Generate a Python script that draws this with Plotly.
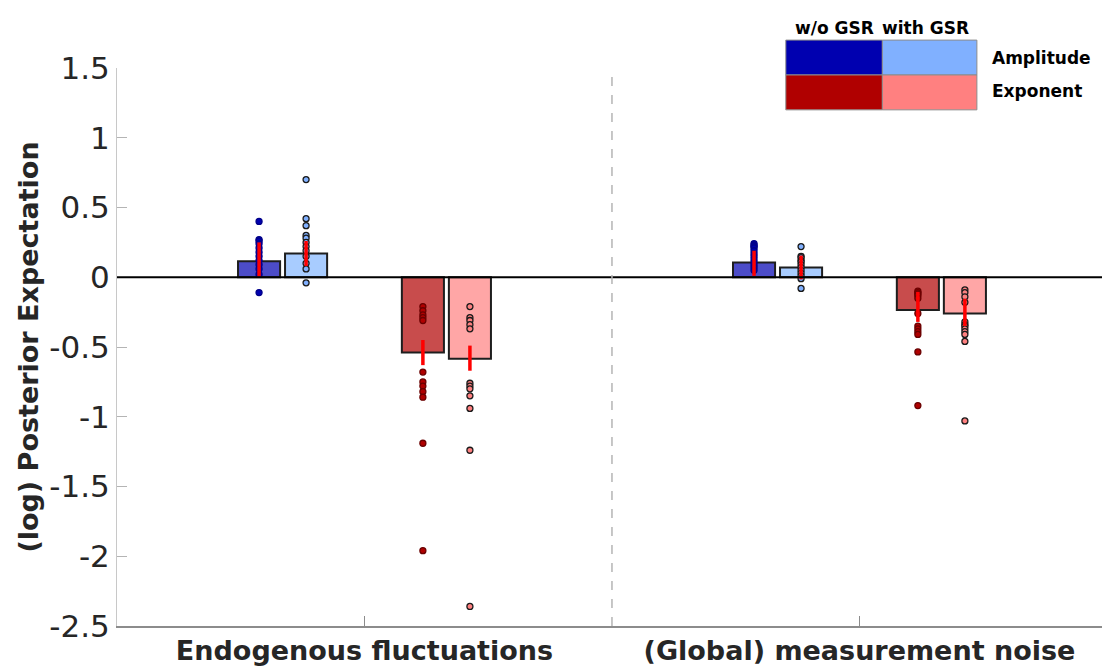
import plotly.graph_objects as go

# ---------------- data ----------------
categories = ["Endogenous fluctuations", "(Global) measurement noise"]
cat_pos = [1, 2]
y_ticks = [1.5, 1, 0.5, 0, -0.5, -1, -1.5, -2, -2.5]
y_tick_labels = ["1.5", "1", "0.5", "0", "-0.5", "-1", "-1.5", "-2", "-2.5"]

groups = ["Amplitude w/o GSR", "Amplitude with GSR", "Exponent w/o GSR", "Exponent with GSR"]

# group means (bar heights) per category
amp_wo_mean = [0.115, 0.105]
amp_w_mean = [0.17, 0.07]
exp_wo_mean = [-0.54, -0.235]
exp_w_mean = [-0.585, -0.26]

# error bar ranges (low, high) per category
amp_wo_lo = [0.005, 0.01]
amp_wo_hi = [0.25, 0.19]
amp_w_lo = [0.08, -0.015]
amp_w_hi = [0.26, 0.155]
exp_wo_lo = [-0.63, -0.32]
exp_wo_hi = [-0.45, -0.105]
exp_w_lo = [-0.67, -0.35]
exp_w_hi = [-0.49, -0.155]

# individual subject estimates
amp_wo_pts = [
    [0.40, 0.27, 0.26, 0.24, 0.21, 0.18, 0.15, 0.12, 0.09, 0.06, 0.02, -0.11],
    [0.24, 0.23, 0.22, 0.21, 0.19, 0.17, 0.15, 0.13, 0.11, 0.09, 0.07, 0.05],
]
amp_w_pts = [
    [0.70, 0.42, 0.37, 0.30, 0.28, 0.25, 0.22, 0.19, 0.15, 0.10, 0.06, -0.04],
    [0.22, 0.15, 0.14, 0.12, 0.11, 0.09, 0.07, 0.05, 0.03, 0.01, -0.01, -0.08],
]
exp_wo_pts = [
    [-0.21, -0.24, -0.27, -0.29, -0.31, -0.68, -0.75, -0.78, -0.82, -0.86, -1.19, -1.96],
    [-0.10, -0.11, -0.12, -0.13, -0.15, -0.26, -0.35, -0.37, -0.39, -0.41, -0.535, -0.92],
]
exp_w_pts = [
    [-0.21, -0.29, -0.31, -0.34, -0.37, -0.76, -0.78, -0.80, -0.85, -0.94, -1.24, -2.36],
    [-0.09, -0.11, -0.14, -0.18, -0.32, -0.34, -0.35, -0.37, -0.39, -0.41, -0.46, -1.03],
]

means = [amp_wo_mean, amp_w_mean, exp_wo_mean, exp_w_mean]
lows = [amp_wo_lo, amp_w_lo, exp_wo_lo, exp_w_lo]
highs = [amp_wo_hi, amp_w_hi, exp_wo_hi, exp_w_hi]
points = [amp_wo_pts, amp_w_pts, exp_wo_pts, exp_w_pts]

# ---------------- styling ----------------
offsets = [-0.213, -0.118, 0.118, 0.213]
bar_width = 0.085
bar_fill = ["#4c4cc8", "#a8ccff", "#c84c4c", "#ffa6a6"]
dot_fill = ["#0000b0", "#80b0ff", "#b00000", "#ff8080"]
dot_edge = ["#00008a", "#1a1a1a", "#6a0000", "#1a1a1a"]
legend_cols = ["#0000b0", "#80b0ff", "#b00000", "#ff8080"]
FONT = "DejaVu Sans"

fig = go.Figure()

for g in range(4):
    xs = [c + offsets[g] for c in cat_pos]
    fig.add_trace(go.Bar(
        x=xs, y=means[g], width=bar_width, name=groups[g],
        marker=dict(color=bar_fill[g], line=dict(color="#1e1e1e", width=2)),
        showlegend=False, hoverinfo="skip",
    ))

for g in range(4):
    px, py = [], []
    for ci, c in enumerate(cat_pos):
        for v in points[g][ci]:
            px.append(c + offsets[g])
            py.append(v)
    fig.add_trace(go.Scatter(
        x=px, y=py, mode="markers", showlegend=False, hoverinfo="skip",
        marker=dict(size=6, color=dot_fill[g], line=dict(color=dot_edge[g], width=1.3)),
    ))

for g in range(4):
    ex, ey = [], []
    for ci, c in enumerate(cat_pos):
        ex += [c + offsets[g], c + offsets[g], None]
        ey += [lows[g][ci], highs[g][ci], None]
    fig.add_trace(go.Scatter(
        x=ex, y=ey, mode="lines", showlegend=False, hoverinfo="skip",
        line=dict(color="#ff0000", width=3.5),
    ))

# zero line
fig.add_hline(y=0, line=dict(color="black", width=2))
# separator
fig.add_shape(type="line", x0=1.5, x1=1.5, y0=-2.5, y1=1.5, xref="x", yref="y",
              line=dict(color="#b4b4b4", width=1.5, dash="dash"))

# colour-grid legend
lx = [0.679, 0.777, 0.873]
ly = [1.05, 0.9875, 0.925]
k = 0
for r in range(2):
    for c in range(2):
        fig.add_shape(type="rect", xref="paper", yref="paper",
                      x0=lx[c], x1=lx[c + 1], y0=ly[r + 1], y1=ly[r],
                      fillcolor=legend_cols[k], line=dict(color="#8c8c8c", width=1))
        k += 1
for txt, xp in [("w/o GSR", 0.728), ("with GSR", 0.821)]:
    fig.add_annotation(text=f"<b>{txt}</b>", x=xp, y=1.072, xref="paper", yref="paper",
                       showarrow=False, xanchor="center", yanchor="middle",
                       font=dict(family=FONT, size=17, color="black"))
for txt, yp in [("Amplitude", 1.018), ("Exponent", 0.958)]:
    fig.add_annotation(text=f"<b>{txt}</b>", x=0.886, y=yp, xref="paper", yref="paper",
                       showarrow=False, xanchor="left", yanchor="middle",
                       font=dict(family=FONT, size=17, color="black"))

fig.update_layout(
    width=1102, height=666,
    margin=dict(l=117, r=0, t=68, b=38),
    plot_bgcolor="white", paper_bgcolor="white",
    barmode="overlay",
    font=dict(family=FONT, color="#262626"),
    xaxis=dict(
        range=[0.5, 2.49], tickvals=cat_pos,
        ticktext=[f"<b>{c}</b>" for c in categories],
        tickfont=dict(family=FONT, size=27, color="#262626"),
        ticks="inside", ticklen=10, tickcolor="#8c8c8c", tickwidth=1,
        showline=True, linecolor="#8c8c8c", linewidth=1.5,
        showgrid=False, zeroline=False, mirror=False,
    ),
    yaxis=dict(
        range=[-2.5, 1.5], tickvals=y_ticks, ticktext=y_tick_labels,
        tickfont=dict(family=FONT, size=31, color="#262626"),
        ticks="inside", ticklen=10, tickcolor="#b4b4b4", tickwidth=1,
        showline=True, linecolor="#c8c8c8", linewidth=1,
        showgrid=False, zeroline=False,
        title=dict(text="<b>(log) Posterior Expectation</b>",
                   font=dict(family=FONT, size=27, color="#262626"), standoff=2),
    ),
)

fig.write_html("out.html", config={"displayModeBar": False},
               post_script="document.body.style.margin='0';")
